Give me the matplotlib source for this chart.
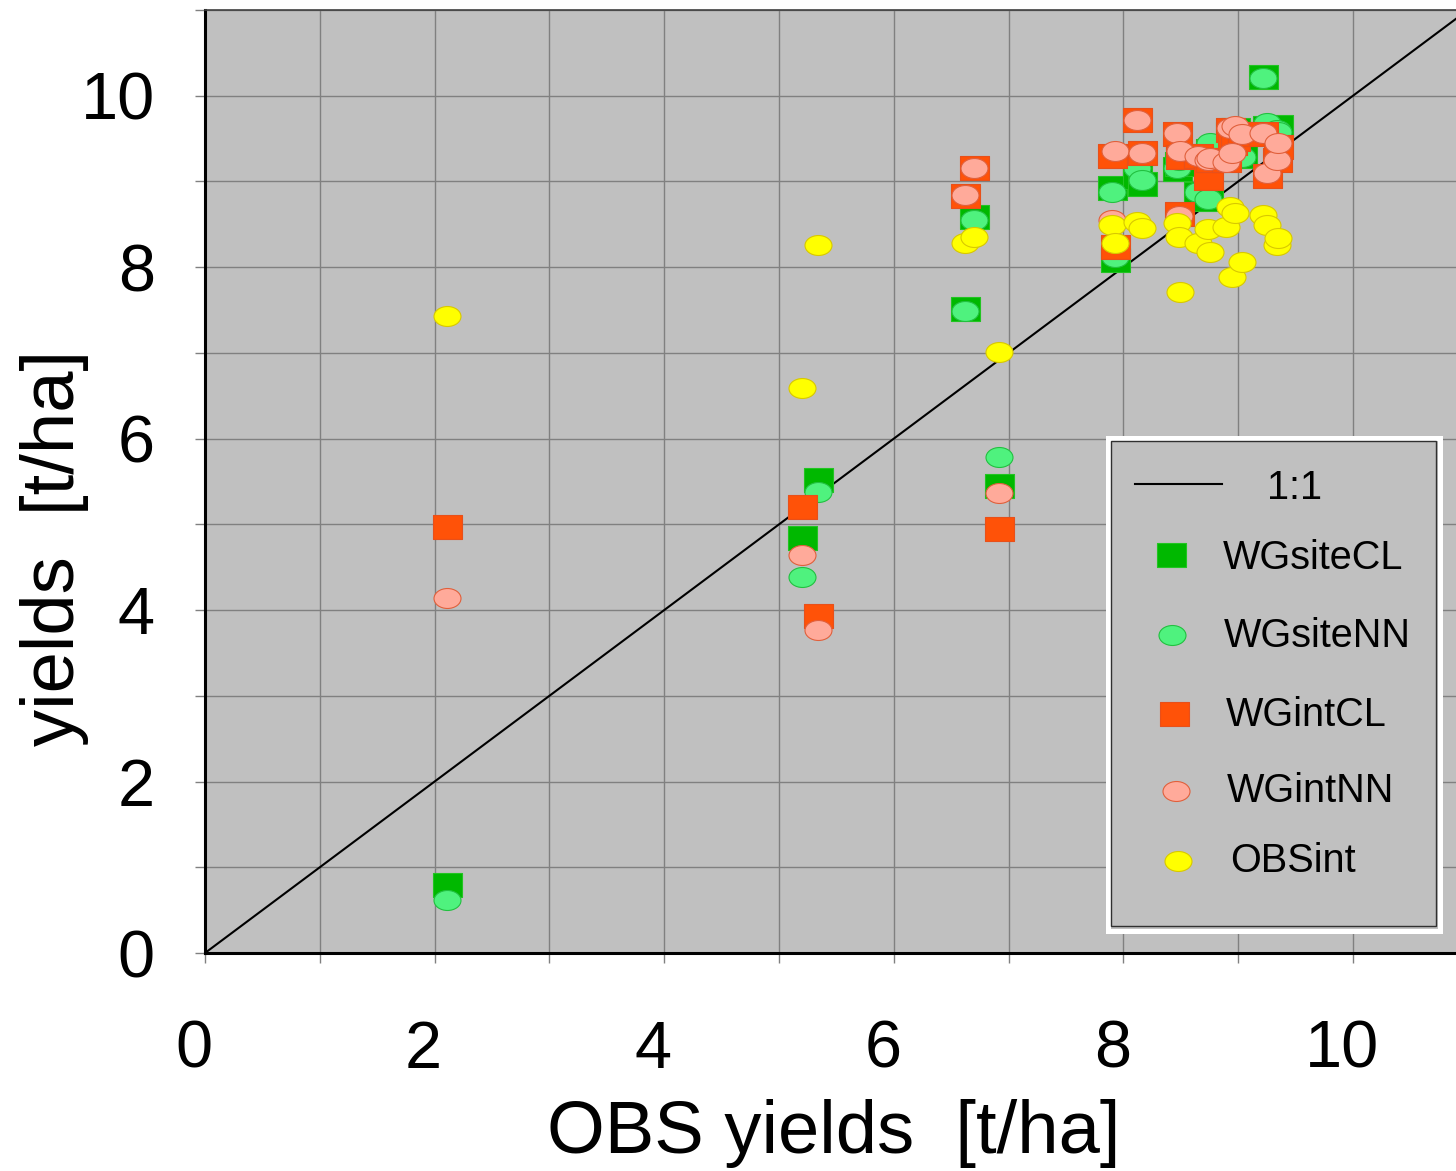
import matplotlib
matplotlib.use("Agg")
import matplotlib.pyplot as plt
import numpy as np
from matplotlib.path import Path
from matplotlib.patches import Rectangle
from matplotlib.lines import Line2D
from matplotlib.transforms import ScaledTranslation, Affine2D

plt.rcParams['font.family'] = ['Liberation Sans', 'DejaVu Sans']

# ---------------- data ----------------
obs_x = [2.11, 5.20, 5.34, 6.62, 6.70, 6.92,
         7.90, 7.93, 8.12, 8.16, 8.47, 8.48, 8.49, 8.65, 8.74, 8.75,
         8.89, 8.93, 8.95, 8.97, 9.03, 9.22, 9.25, 9.34, 9.35]

wg_site_cl = [0.79, 4.84, 5.52, 7.51, 8.58, 5.45,
              8.92, 8.08, 9.05, 8.97, 9.15, 9.20, 9.30, 8.85, 8.80, 9.35,
              9.30, 9.55, 9.40, 9.60, 9.30, 10.22, 9.62, 9.60, 9.63]
wg_site_nn = [0.62, 4.39, 5.38, 7.49, 8.55, 5.79,
              8.88, 8.12, 9.16, 9.02, 9.16, 9.25, 9.30, 8.88, 8.79, 9.45,
              9.28, 9.55, 9.35, 9.60, 9.29, 10.21, 9.68, 9.60, 9.58]
wg_int_cl = [4.97, 5.20, 3.93, 8.83, 9.16, 4.95,
             9.30, 8.24, 9.72, 9.33, 9.55, 8.62, 9.29, 9.30, 9.04, 9.25,
             9.25, 9.60, 9.45, 9.50, 9.55, 9.55, 9.06, 9.25, 9.40]
wg_int_nn = [4.14, 4.64, 3.77, 8.84, 9.16, 5.37,
             8.55, 9.35, 9.72, 9.33, 9.57, 8.60, 9.35, 9.30, 9.25, 9.27,
             9.23, 9.62, 9.33, 9.65, 9.55, 9.57, 9.10, 9.25, 9.45]
obs_int = [7.43, 6.59, 8.26, 8.28, 8.35, 7.01,
           8.49, 8.28, 8.53, 8.46, 8.52, 8.35, 7.71, 8.28, 8.44, 8.18,
           8.47, 8.70, 7.88, 8.63, 8.06, 8.61, 8.49, 8.26, 8.34]

series_names = ["WGsiteCL", "WGsiteNN", "WGintCL", "WGintNN", "OBSint"]
line_label = "1:1"
tick_vals = [0, 2, 4, 6, 8, 10]

# ---------------- styles ----------------
W, H, DPI = 1456, 1171, 100
PT = 72.0 / DPI  # points per pixel

rect_marker = Path([(-0.5, -0.4), (0.5, -0.4), (0.5, 0.4), (-0.5, 0.4), (-0.5, -0.4)],
                   [Path.MOVETO, Path.LINETO, Path.LINETO, Path.LINETO, Path.CLOSEPOLY])
uc = Path.unit_circle()
ell_marker = Path(Affine2D().scale(1.0, 0.74).transform(uc.vertices), uc.codes)

styles = [
    dict(marker=rect_marker, markersize=29 * PT, markerfacecolor='#00B800',
         markeredgecolor='#22C422', markeredgewidth=0.8),
    dict(marker=ell_marker, markersize=27 * PT, markerfacecolor='#4FF27E',
         markeredgecolor='#22C040', markeredgewidth=0.8),
    dict(marker=rect_marker, markersize=29 * PT, markerfacecolor='#FF5208',
         markeredgecolor='#E8501A', markeredgewidth=0.8),
    dict(marker=ell_marker, markersize=27 * PT, markerfacecolor='#FFAA9A',
         markeredgecolor='#E0603C', markeredgewidth=0.8),
    dict(marker=ell_marker, markersize=27 * PT, markerfacecolor='#FFFF00',
         markeredgecolor='#D8C800', markeredgewidth=0.8),
]

def fx(px):
    return px / W

def fy(py):
    return 1 - py / H

# ---------------- figure ----------------
fig = plt.figure(figsize=(W / DPI, H / DPI), dpi=DPI, facecolor='white')
x_unit = (1353 - 205) / 10.0
ax = fig.add_axes([fx(205), fy(953), (W - 205) / W, (953 - 10) / H])
ax.set_facecolor('#C0C0C0')
ax.set_xlim(0, (W - 205) / x_unit)
ax.set_ylim(0, 11)

ax.set_xticks(np.arange(0, 11))
ax.set_yticks(np.arange(0, 12))
ax.set_xticklabels([str(v) if v in tick_vals else '' for v in range(0, 11)])
ax.set_yticklabels([str(v) if v in tick_vals else '' for v in range(0, 12)])
ax.grid(True, color='#808080', linewidth=1.0)
ax.set_axisbelow(True)
ax.tick_params(axis='both', which='major', color='#808080', width=1.0,
               length=10 * PT, labelsize=48)
ax.tick_params(axis='x', pad=57 * PT)
ax.tick_params(axis='y', pad=40 * PT)
for lab in ax.get_xticklabels():
    lab.set_transform(lab.get_transform() + ScaledTranslation(-11 / DPI, 0, fig.dpi_scale_trans))

ax.spines['right'].set_visible(False)
ax.spines['top'].set_color('#404040')
ax.spines['top'].set_linewidth(1.2)
for s in ('left', 'bottom'):
    ax.spines[s].set_color('black')
    ax.spines[s].set_linewidth(2.2)

# 1:1 line
lim = 11
ax.plot([0, lim], [0, lim], color='black', linewidth=1.5, zorder=3)

# series
all_series = [wg_site_cl, wg_site_nn, wg_int_cl, wg_int_nn, obs_int]
for i, (vals, st) in enumerate(zip(all_series, styles)):
    ax.plot(obs_x, vals, linestyle='none', zorder=4 + i, **st)

# axis labels
fig.text(fx(834), fy(1133), "OBS yields  [t/ha]", fontsize=53.5, ha='center', va='center')
fig.text(fx(55), fy(548), "yields  [t/ha]", fontsize=53.5, rotation=90, ha='center', va='center')

# ---------------- legend (drawn manually) ----------------
outer = Rectangle((fx(1108), fy(931)), fx(1440) - fx(1108), fy(438) - fy(931),
                  transform=fig.transFigure, facecolor='#C0C0C0', edgecolor='white',
                  linewidth=5 * PT, zorder=20)
fig.add_artist(outer)
inner = Rectangle((fx(1110.5), fy(926)), fx(1435.5) - fx(1110.5), fy(441) - fy(926),
                  transform=fig.transFigure, facecolor='none', edgecolor='#303030',
                  linewidth=1.0, zorder=21)
fig.add_artist(inner)

fig.add_artist(Line2D([fx(1135), fx(1222)], [fy(484), fy(484)], transform=fig.transFigure,
                      color='black', linewidth=1.5, zorder=22))
fig.text(fx(1267), fy(488), line_label, fontsize=28.5, ha='left', va='center', zorder=22)

leg_rows = [(1171, 555, 1223, 558), (1172, 635, 1224, 636), (1174, 714, 1226, 715),
            (1176, 791, 1227, 791), (1178, 861, 1230, 861)]
for name, st, (mx, my, tx, ty) in zip(series_names, styles, leg_rows):
    fig.add_artist(Line2D([fx(mx)], [fy(my)], transform=fig.transFigure,
                          linestyle='none', zorder=22, **st))
    fig.text(fx(tx), fy(ty), name, fontsize=28.5, ha='left', va='center', zorder=22)

fig.savefig("out.png", dpi=DPI, facecolor='white')
